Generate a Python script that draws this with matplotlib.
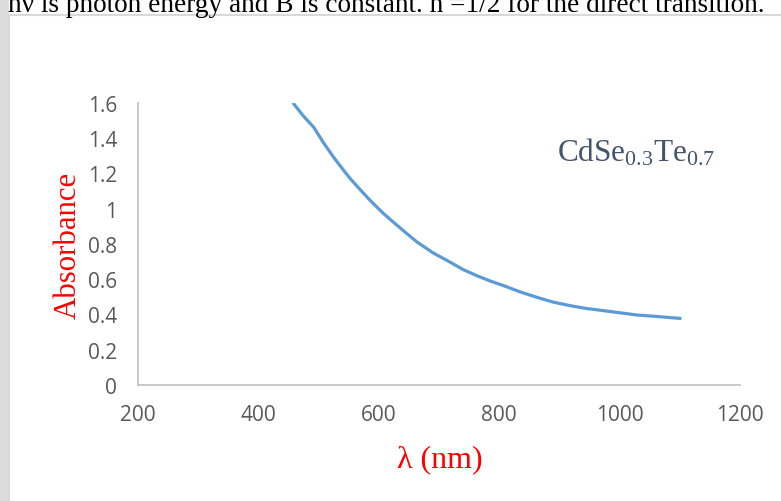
import matplotlib.pyplot as plt
from matplotlib.patches import Rectangle

plt.rcParams['mathtext.fontset'] = 'custom'
plt.rcParams['mathtext.rm'] = 'Liberation Serif'

# absorbance spectrum
wavelength = [459, 475, 492, 508, 525, 540, 553, 570, 586, 608, 631, 648, 664,
              690, 719, 740, 763, 785, 808, 835, 863, 890, 918, 945, 973,
              1000, 1029, 1065, 1100]
absorbance = [1.594, 1.525, 1.462, 1.375, 1.292, 1.225, 1.169, 1.105, 1.046,
              0.972, 0.904, 0.855, 0.810, 0.750, 0.696, 0.655, 0.620, 0.590,
              0.563, 0.528, 0.497, 0.470, 0.450, 0.434, 0.422, 0.410, 0.397,
              0.388, 0.378]

x_ticks = [200, 400, 600, 800, 1000, 1200]
y_ticks = [0, 0.2, 0.4, 0.6, 0.8, 1, 1.2, 1.4, 1.6]
y_tick_labels = ['0', '0.2', '0.4', '0.6', '0.8', '1', '1.2', '1.4', '1.6']

fig = plt.figure(figsize=(7.81, 5.02), dpi=100)

# page background bits: left shadow strip, chart frame, cut-off text line
fig.patches.append(Rectangle((0, 0), 9 / 781, 1, transform=fig.transFigure,
                             facecolor='#dcdcdc', edgecolor='none', zorder=-2))
fig.patches.append(Rectangle((9 / 781, -0.01), 1, 1 - 16 / 502 + 0.01,
                             transform=fig.transFigure, facecolor='white',
                             edgecolor='#d9d9d9', linewidth=1.5, zorder=-1))
fig.text(8 / 781, 1 - 12.5 / 502,
         'hν is photon energy and B is constant. n =1/2 for the direct transition.',
         family='Liberation Serif', fontsize=19.6, va='baseline', ha='left')

ax = fig.add_axes([138 / 781, 1 - 386 / 502, 602 / 781, 282 / 502])
ax.set_facecolor('none')
ax.plot(wavelength, absorbance, color='#5b9bd5', linewidth=2.3)

ax.set_xlim(200, 1200)
ax.set_ylim(0, 1.6)
ax.set_xticks(x_ticks)
ax.set_yticks(y_ticks)
ax.set_yticklabels(y_tick_labels)
ax.tick_params(length=0, labelsize=15, labelcolor='#595959')
ax.tick_params(axis='x', pad=14)
ax.tick_params(axis='y', pad=15)
for lab in ax.get_xticklabels() + ax.get_yticklabels():
    lab.set_family('Open Sans')
for s in ['top', 'right']:
    ax.spines[s].set_visible(False)
for s in ['left', 'bottom']:
    ax.spines[s].set_color('#bfbfbf')
    ax.spines[s].set_linewidth(1.2)

ax.set_xlabel('λ (nm)', family='Liberation Serif', fontsize=23, color='red',
              va='center')
ax.xaxis.set_label_coords(0.502, -0.262)
ax.set_ylabel('Absorbance', family='Liberation Serif', fontsize=22.2,
              color='red', va='center')
ax.yaxis.set_label_coords(-0.116, 0.5)

ax.text(0.696, 0.83, r'$\mathrm{CdSe_{0.3}Te_{0.7}}$', transform=ax.transAxes,
        fontsize=22.5, color='#44546a', ha='left', va='center')

fig.savefig('out.png', dpi=100)
